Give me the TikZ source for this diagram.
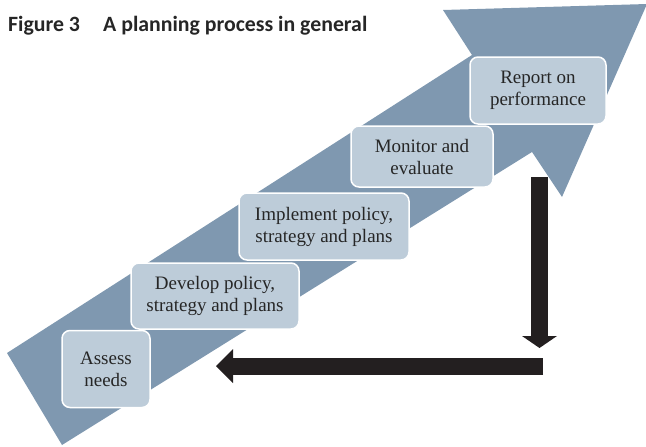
\documentclass[tikz,border=0pt]{standalone}
\usepackage{fontspec}
\setmainfont{Liberation Serif}
\newfontfamily\titlefont{Carlito}
\usetikzlibrary{arrows.meta}
\definecolor{flowblue}{HTML}{7F98B0}
\definecolor{stepfill}{HTML}{BDCCD9}
\definecolor{darkarrow}{HTML}{231F20}
\begin{document}
\begin{tikzpicture}[x=1pt,y=-1pt,
  stepbox/.style={draw=white, line width=1.5pt, fill=stepfill, rounded corners=8pt,
    align=center, inner sep=0pt, font=\fontsize{19}{22}\selectfont, text=black!85},
  bigarrow/.style={draw=darkarrow, line width=17pt,
    -{Triangle[width=35pt,length=12pt,line width=0pt]}},
  titletext/.style={anchor=base west, inner sep=0pt, text=black!85,
    font=\titlefont\bfseries\fontsize{21.8}{24}\selectfont}]
\useasboundingbox (0,0) rectangle (646,447);

% title
\node[titletext] (fig) at (8,31) {Figure 3};
\node[titletext] (cap) at (103,31) {A planning process in general};

% broad rising arrow behind the steps
\fill[flowblue] (7,353) -- (472,55) -- (443,10) -- (647,4) -- (562,197)
  -- (532,152) -- (62,445) -- cycle;

% the five steps
\node[stepbox, minimum width=88pt, minimum height=77pt] (assess) at (106,369) {Assess\\needs};
\node[stepbox, minimum width=168pt, minimum height=66pt] (develop) at (215,296) {Develop policy,\\strategy and plans};
\node[stepbox, minimum width=170pt, minimum height=67pt] (implement) at (324,226.5) {Implement policy,\\strategy and plans};
\node[stepbox, minimum width=142pt, minimum height=61pt] (monitor) at (422,156.5) {Monitor and\\evaluate};
\node[stepbox, minimum width=136pt, minimum height=67pt] (report) at (538,90.5) {Report on\\performance};

% feedback loop back to the start
\coordinate (downstart) at (539.5,177);
\coordinate (downend) at (539.5,348);
\coordinate (backstart) at (543,366);
\coordinate (backend) at (216,366);
\draw[bigarrow] (downstart) -- (downend);
\draw[bigarrow, -{Triangle[width=34pt,length=17pt,line width=0pt]}] (backstart) -- (backend);
\end{tikzpicture}
\end{document}
